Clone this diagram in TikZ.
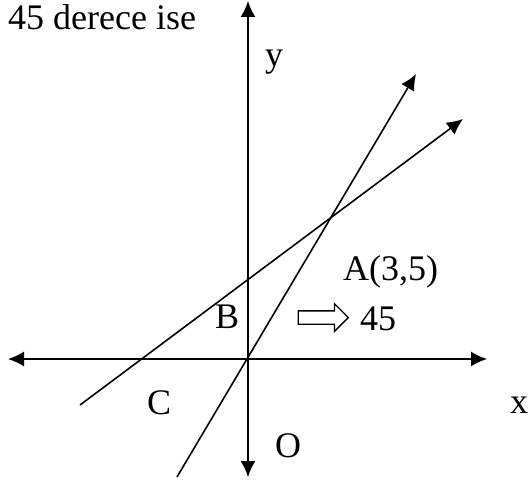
\documentclass[tikz,border=0pt]{standalone}
\usepackage{fontspec}
\setmainfont{Liberation Serif}
\usepackage{tikz}
\usetikzlibrary{arrows.meta,shapes.arrows}

\begin{document}
\begin{tikzpicture}[x=1pt,y=-1pt,font=\fontsize{36}{42}\selectfont,
  axis/.style={line width=1.6pt,{Latex[length=16pt,width=15pt]}-{Latex[length=16pt,width=15pt]}},
  ray/.style={line width=1.6pt,-{Latex[length=16pt,width=15pt]}},
  lbl/.style={inner sep=0pt,anchor=base west},
  fat/.style={draw,line width=1.3pt,single arrow,shape border rotate=0,minimum height=50pt,minimum width=25pt,inner sep=6pt,single arrow head indent=0pt}]
\useasboundingbox (0,0) rectangle (529,484);
% axes
\coordinate (xl) at (8,359);
\coordinate (xr) at (487,359);
\coordinate (yt) at (248,1);
\coordinate (yb) at (248,477);
\draw[axis] (xl) -- (xr);
\draw[axis] (yb) -- (yt);
% the two lines
\coordinate (s0) at (177,477);
\coordinate (s1) at (416,74);
\coordinate (t0) at (80,405);
\coordinate (t1) at (463,119);
\draw[ray] (s0) -- (s1);
\draw[ray] (t0) -- (t1);
% labels
\node[lbl] (title) at (8,30) {45 derece ise};
\node[lbl] (ylab) at (265,67) {y};
\node[lbl] (xlab) at (510,413) {x};
\node[lbl] (pa) at (343,280) {A(3,5)};
\node[lbl] (pb) at (215,328) {B};
\node[lbl] (pc) at (147,414) {C};
\node[lbl] (po) at (275,457) {O};
\node[fat] (imp) at (320,317.5) {};
\node[lbl] (ang) at (360,330) {45};
\end{tikzpicture}
\end{document}
